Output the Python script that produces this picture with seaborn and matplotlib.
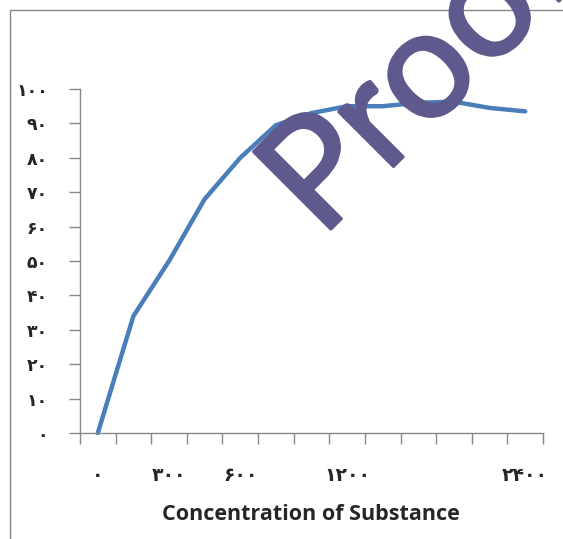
import numpy as np
import pandas as pd
import seaborn as sns
import matplotlib.pyplot as plt
import matplotlib.patheffects as pe
from matplotlib.lines import Line2D

# data (13 categories, only some labelled)
x_labels = ["۰", "", "۳۰۰", "", "۶۰۰", "", "", "۱۲۰۰", "", "", "", "", "۲۴۰۰"]
response = [0, 34, 50, 68, 80, 89.5, 93, 95, 95, 96, 96.3, 94.5, 93.5]
y_ticks = [0, 10, 20, 30, 40, 50, 60, 70, 80, 90, 100]
y_labels = ["۰", "۱۰", "۲۰", "۳۰", "۴۰", "۵۰", "۶۰", "۷۰", "۸۰", "۹۰", "۱۰۰"]

df = pd.DataFrame({"cat": np.arange(len(response)), "value": response})

sns.set_theme(style="white")
plt.rcParams["font.family"] = ["DejaVu Sans"]

fig = plt.figure(figsize=(5.63, 5.39), dpi=100)
ax = fig.add_axes([80 / 563, 1 - 433 / 539, 463 / 563, 344 / 539])

sns.lineplot(data=df, x="cat", y="value", ax=ax, color="#4A7EBB",
             linewidth=3.2, clip_on=False, solid_capstyle="round")

ax.set_xlim(-0.5, len(response) - 0.5)
ax.set_ylim(0, 100)
gray = "#888888"
for s in ["top", "right"]:
    ax.spines[s].set_visible(False)
for s in ["left", "bottom"]:
    ax.spines[s].set_color(gray)
    ax.spines[s].set_linewidth(1.0)

# tick marks between categories, labels at category centres
ax.set_xticks(np.arange(-0.5, len(response), 1.0))
ax.set_xticklabels([])
ax.set_xticks(np.arange(len(response)), minor=True)
ax.set_xticklabels(x_labels, minor=True, fontweight="bold", fontsize=13.5)
ax.tick_params(axis="x", which="major", direction="out", length=8, width=1, color=gray, bottom=True)
ax.tick_params(axis="x", which="minor", length=0, pad=24)

ax.set_yticks(y_ticks)
ax.set_yticklabels(y_labels, fontweight="bold", fontsize=12.5)
ax.tick_params(axis="y", direction="out", length=8, width=1, color=gray, left=True, pad=15)

ax.set_xlabel("")
ax.set_ylabel("")
fig.text(311 / 563, 1 - 515 / 539, "Concentration of Substance", ha="center", va="center",
         fontsize=15.5, fontweight="bold", family=["Open Sans", "DejaVu Sans"])

# chart area frame (only left and top edges visible)
fig.add_artist(Line2D([10 / 563, 10 / 563], [0, 1 - 10 / 539], transform=fig.transFigure,
                      color=gray, linewidth=1))
fig.add_artist(Line2D([10 / 563, 1], [1 - 10 / 539, 1 - 10 / 539], transform=fig.transFigure,
                      color=gray, linewidth=1))

# watermark
wm_color = "#5F5A8E"
fig.text(321 / 563, 1 - 239 / 539, "Proof", rotation=45, rotation_mode="anchor",
         ha="left", va="baseline", fontsize=110, color=wm_color,
         family=["Lato", "DejaVu Sans"], zorder=10,
         path_effects=[pe.withStroke(linewidth=2.2, foreground=wm_color)])

fig.savefig("out.png", dpi=100)
